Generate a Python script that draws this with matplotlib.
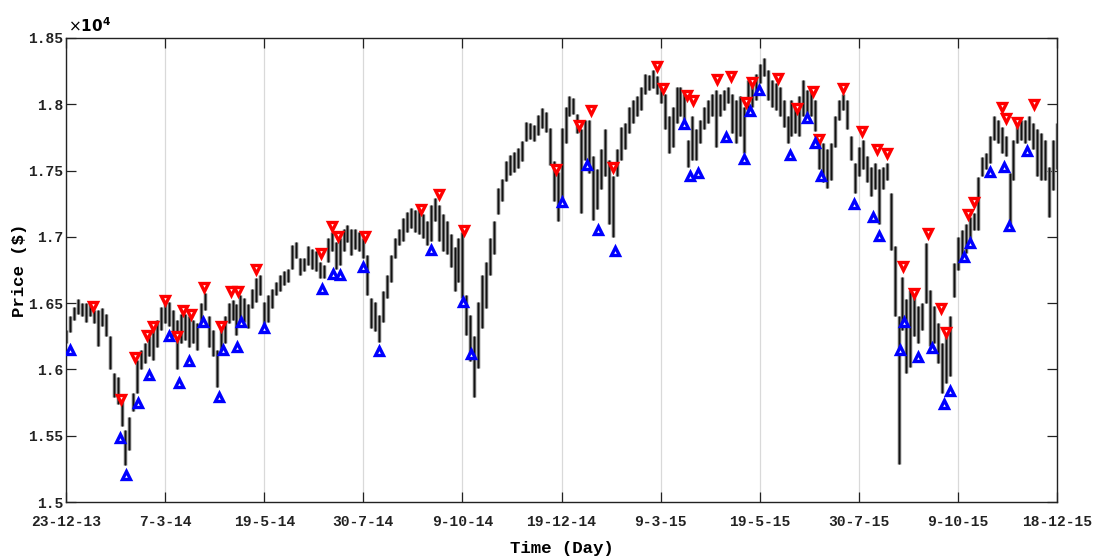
import numpy as np
import matplotlib
matplotlib.use("Agg")
import matplotlib.pyplot as plt

# Price in units of 10^4 $, one bar every 2 trading days (day 0 .. 500)
low = [1.620, 1.628, 1.637, 1.642, 1.640, 1.636, 1.640, 1.635, 1.618, 1.633, 1.625, 1.600, 1.579, 1.574, 1.557, 1.528,
       1.539, 1.569, 1.582, 1.600, 1.605, 1.610, 1.607, 1.617, 1.630, 1.635, 1.633, 1.625, 1.600, 1.620, 1.622, 1.617,
       1.620, 1.615, 1.635, 1.645, 1.617, 1.610, 1.587, 1.615, 1.620, 1.635, 1.637,
       1.626, 1.634, 1.636, 1.631, 1.646, 1.651, 1.656, 1.631, 1.636, 1.646, 1.656, 1.659, 1.664, 1.666, 1.676, 1.684,
       1.671, 1.674, 1.679, 1.676, 1.674, 1.669, 1.669, 1.681, 1.689, 1.676, 1.679, 1.689, 1.696, 1.686, 1.691, 1.689,
       1.684, 1.656, 1.631, 1.629, 1.621, 1.636, 1.654, 1.666, 1.684, 1.694,
       1.697, 1.704, 1.707, 1.704, 1.702, 1.699, 1.694, 1.697, 1.712, 1.697, 1.689, 1.687, 1.677, 1.659, 1.666, 1.654,
       1.626, 1.606, 1.579, 1.601, 1.631, 1.646, 1.671, 1.687, 1.717, 1.727, 1.742, 1.747, 1.749, 1.752, 1.757, 1.772,
       1.774, 1.772, 1.777, 1.782, 1.779, 1.754, 1.727, 1.712, 1.724,
       1.771, 1.791, 1.793, 1.778, 1.718, 1.758, 1.748, 1.713, 1.721, 1.736, 1.746, 1.710, 1.700, 1.746, 1.758, 1.766,
       1.778, 1.786, 1.791, 1.796, 1.808, 1.811, 1.812, 1.808, 1.801, 1.781, 1.763, 1.768, 1.786, 1.791, 1.788, 1.753,
       1.758, 1.758, 1.771, 1.781, 1.786, 1.791, 1.768, 1.791, 1.796, 1.801,
       1.778, 1.771, 1.776, 1.763, 1.793, 1.798, 1.803, 1.816, 1.821, 1.803, 1.798, 1.796, 1.791, 1.783, 1.771, 1.776,
       1.778, 1.776, 1.791, 1.786, 1.791, 1.780, 1.751, 1.741, 1.737, 1.743, 1.768, 1.788, 1.796, 1.781, 1.758, 1.733,
       1.746, 1.751, 1.741, 1.731, 1.736, 1.710, 1.736, 1.743, 1.690, 1.640,
       1.529, 1.630, 1.597, 1.602, 1.625, 1.620, 1.630, 1.650, 1.618, 1.620, 1.605, 1.582, 1.590, 1.595, 1.655, 1.675,
       1.685, 1.688, 1.695, 1.705, 1.705, 1.746, 1.751, 1.756, 1.773, 1.771, 1.763, 1.761, 1.710, 1.743, 1.771, 1.773,
       1.771, 1.773, 1.766, 1.746, 1.743, 1.743, 1.715, 1.735, 1.751]
high = [1.630, 1.640, 1.647, 1.653, 1.650, 1.650, 1.651, 1.645, 1.645, 1.646, 1.642, 1.625, 1.597, 1.594, 1.577, 1.554,
        1.564, 1.582, 1.607, 1.615, 1.620, 1.625, 1.632, 1.637, 1.647, 1.650, 1.651, 1.645, 1.637, 1.642, 1.642, 1.640,
        1.637, 1.635, 1.650, 1.658, 1.640, 1.630, 1.615, 1.632, 1.640, 1.650, 1.652,
        1.649, 1.656, 1.654, 1.649, 1.661, 1.669, 1.671, 1.651, 1.656, 1.661, 1.666, 1.671, 1.674, 1.676, 1.694, 1.696,
        1.684, 1.684, 1.693, 1.691, 1.689, 1.681, 1.679, 1.699, 1.704, 1.696, 1.699, 1.706, 1.709, 1.706, 1.706, 1.704,
        1.699, 1.686, 1.654, 1.651, 1.641, 1.659, 1.671, 1.686, 1.699, 1.706,
        1.714, 1.719, 1.722, 1.720, 1.722, 1.717, 1.712, 1.724, 1.729, 1.724, 1.717, 1.712, 1.702, 1.692, 1.699, 1.704,
        1.656, 1.641, 1.625, 1.651, 1.671, 1.681, 1.699, 1.712, 1.737, 1.744, 1.757, 1.762, 1.764, 1.767, 1.772, 1.787,
        1.786, 1.784, 1.792, 1.797, 1.794, 1.782, 1.757, 1.749, 1.782,
        1.798, 1.806, 1.805, 1.793, 1.781, 1.788, 1.788, 1.761, 1.751, 1.766, 1.781, 1.758, 1.746, 1.766, 1.783, 1.786,
        1.798, 1.803, 1.806, 1.813, 1.823, 1.822, 1.826, 1.821, 1.816, 1.808, 1.791, 1.798, 1.813, 1.813, 1.808, 1.773,
        1.791, 1.781, 1.788, 1.798, 1.803, 1.808, 1.811, 1.808, 1.811, 1.813,
        1.808, 1.803, 1.806, 1.798, 1.818, 1.816, 1.823, 1.830, 1.835, 1.826, 1.818, 1.816, 1.813, 1.803, 1.791, 1.803,
        1.798, 1.806, 1.818, 1.811, 1.812, 1.803, 1.773, 1.771, 1.766, 1.771, 1.791, 1.803, 1.808, 1.803, 1.776, 1.756,
        1.768, 1.773, 1.761, 1.753, 1.756, 1.751, 1.753, 1.756, 1.733, 1.693,
        1.640, 1.670, 1.653, 1.660, 1.655, 1.648, 1.650, 1.695, 1.660, 1.648, 1.635, 1.620, 1.630, 1.640, 1.680, 1.700,
        1.705, 1.710, 1.715, 1.718, 1.745, 1.760, 1.763, 1.776, 1.791, 1.788, 1.783, 1.776, 1.748, 1.773, 1.786, 1.788,
        1.788, 1.791, 1.786, 1.781, 1.778, 1.773, 1.753, 1.773, 1.786]
bar_day = np.arange(0, 2 * len(low), 2)

peak_day = [13.8, 27.7, 34.8, 41.0, 44.1, 50.1, 55.8, 58.9, 63.1, 69.8, 78.0, 83.2, 87.0, 96.0, 128.5, 134.0,
            137.1, 150.9, 179.1, 188.2, 200.8, 247.4, 259.0, 264.9, 276.2, 298.0, 301.4, 313.5, 316.2, 328.3,
            335.4, 343.1, 346.3, 359.1, 369.0, 377.1, 380.1, 392.2, 401.5, 409.0, 414.1, 422.5, 428.0, 435.1,
            441.3, 444.0, 455.3, 458.1, 472.1, 474.3, 479.9, 488.1]
peak_val = [1.648, 1.578, 1.609, 1.626, 1.633, 1.652, 1.625, 1.645, 1.642, 1.662, 1.633, 1.659, 1.659, 1.676, 1.688,
            1.708, 1.701, 1.701, 1.721, 1.732, 1.705, 1.751, 1.784, 1.796, 1.753, 1.829, 1.812, 1.807, 1.803, 1.819,
            1.821, 1.802, 1.817, 1.820, 1.797, 1.810, 1.774, 1.812, 1.780, 1.766, 1.763, 1.678, 1.658, 1.703, 1.646,
            1.628, 1.717, 1.726, 1.798, 1.790, 1.787, 1.800]
trough_day = [2.0, 27.2, 30.3, 36.2, 42.0, 51.8, 57.2, 62.2, 69.3, 77.2, 79.0, 86.1, 88.3, 100.1, 129.0, 134.6,
              138.3, 150.0, 157.9, 184.0, 200.1, 204.2, 250.1, 262.9, 268.3, 277.0, 312.0, 314.8, 319.0, 333.0,
              342.1, 345.1, 349.8, 365.3, 374.0, 377.9, 380.9, 397.7, 407.0, 410.4, 420.8, 423.0, 430.0, 437.1,
              443.0, 446.2, 453.2, 456.3, 466.2, 473.1, 475.9, 485.0]
trough_val = [1.615, 1.548, 1.520, 1.575, 1.596, 1.625, 1.590, 1.606, 1.636, 1.579, 1.615, 1.617, 1.636, 1.631,
              1.661, 1.672, 1.671, 1.677, 1.614, 1.690, 1.651, 1.612, 1.726, 1.754, 1.705, 1.689, 1.785, 1.746,
              1.748, 1.775, 1.759, 1.795, 1.811, 1.762, 1.790, 1.771, 1.746, 1.725, 1.715, 1.701, 1.615, 1.636,
              1.609, 1.616, 1.574, 1.584, 1.685, 1.695, 1.749, 1.753, 1.708, 1.765]

x_tick_pos = [0, 50, 100, 150, 200, 250, 300, 350, 400, 450, 500]
x_tick_labels = ["23-12-13", "7-3-14", "19-5-14", "30-7-14", "9-10-14", "19-12-14",
                 "9-3-15", "19-5-15", "30-7-15", "9-10-15", "18-12-15"]
y_ticks = [1.5, 1.55, 1.6, 1.65, 1.7, 1.75, 1.8, 1.85]
y_tick_labels = ["1.5", "1.55", "1.6", "1.65", "1.7", "1.75", "1.8", "1.85"]

mono = "Liberation Mono"

fig = plt.figure(figsize=(11, 5.56), dpi=100)
ax = fig.add_axes([0.06, 0.0971, 0.901, 0.8346])

ax.vlines(bar_day, low, high, color="#6a6a6a", lw=2.5, zorder=2)
ax.vlines(bar_day, low, high, color="#111111", lw=0.9, zorder=2.1)
ax.plot(peak_day, peak_val, ls="none", marker="v", ms=5.6, mfc="white", mec="#ff0000", mew=2.4, zorder=3)
ax.plot(trough_day, trough_val, ls="none", marker="^", ms=5.6, mfc="white", mec="#0000ff", mew=2.4, zorder=3)

ax.set_xlim(0, 500)
ax.set_ylim(1.5, 1.85)
ax.set_xticks(x_tick_pos)
ax.set_xticklabels(x_tick_labels, fontfamily=mono, fontweight="bold", fontsize=10.5)
ax.set_yticks(y_ticks)
ax.set_yticklabels(y_tick_labels, fontfamily=mono, fontweight="bold", fontsize=10.5)
ax.tick_params(axis="both", direction="in", length=7, width=0.9, top=True, right=True, colors="#222222")
ax.tick_params(axis="x", pad=9)
ax.tick_params(axis="y", pad=2)
ax.grid(axis="x", color="#d9d9d9", lw=0.9, zorder=0)
ax.set_axisbelow(True)
for s in ax.spines.values():
    s.set_color("#222222")
    s.set_linewidth(1.0)

ax.set_xlabel("Time (Day)", fontfamily=mono, fontweight="bold", fontsize=12.5, labelpad=9)
ax.set_ylabel("Price ($)", fontfamily=mono, fontweight="bold", fontsize=12.5, labelpad=1)
ax.text(0.002, 1.006, r"$\times\mathbf{10^{4}}$", transform=ax.transAxes, fontsize=11, ha="left", va="bottom")

fig.savefig("out.png", dpi=100)
